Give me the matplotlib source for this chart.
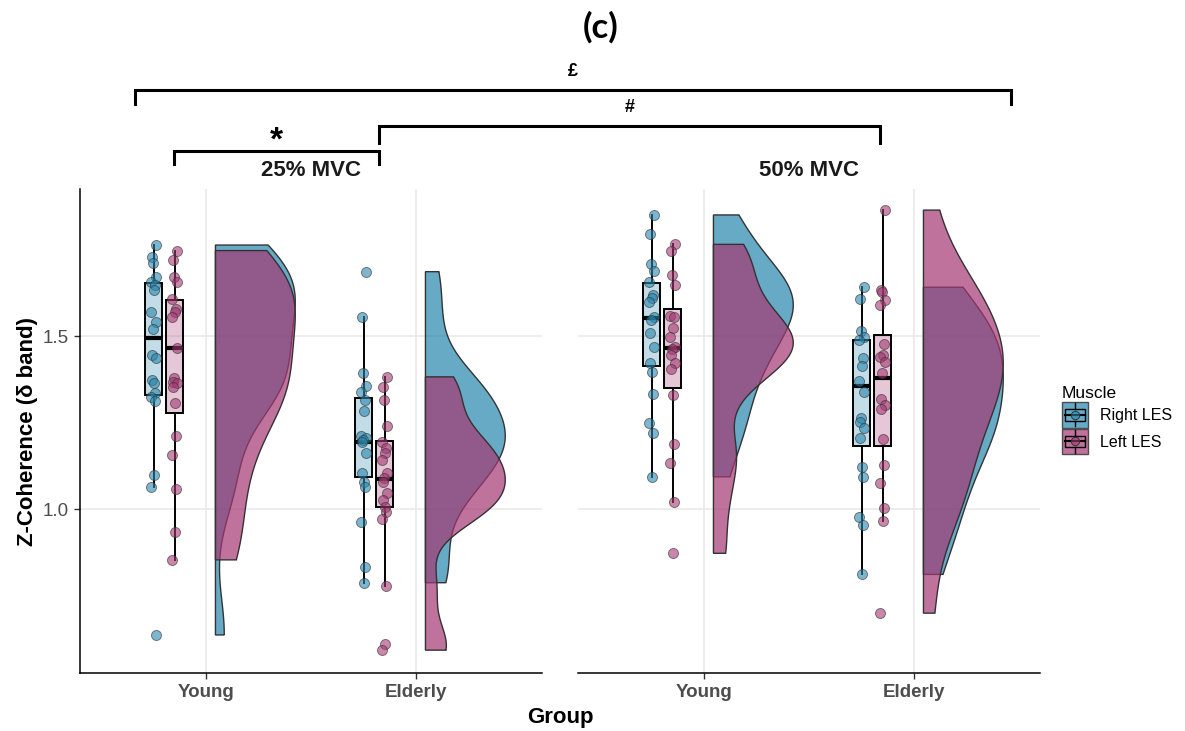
import numpy as np
import matplotlib.pyplot as plt
from matplotlib.colors import to_rgba
from matplotlib.lines import Line2D
from matplotlib.patches import Rectangle, Patch
from matplotlib.legend_handler import HandlerBase

plt.rcParams['font.family'] = ['Liberation Sans', 'DejaVu Sans']

# === DATA ===
groups = ["Young", "Elderly"]
loads = ["25% MVC", "50% MVC"]
muscles = ["Right LES", "Left LES"]

# individual z-coherence values (delta band)
right_25_young = [1.763, 1.729, 1.710, 1.671, 1.655, 1.647, 1.633, 1.570, 1.541, 1.520,
                  1.445, 1.436, 1.373, 1.363, 1.334, 1.325, 1.311, 1.098, 1.064, 0.636]
left_25_young = [1.747, 1.720, 1.671, 1.655, 1.606, 1.577, 1.570, 1.554, 1.464, 1.378,
                 1.368, 1.363, 1.353, 1.305, 1.212, 1.156, 1.057, 0.934, 0.853]
right_25_elderly = [1.686, 1.554, 1.394, 1.355, 1.339, 1.315, 1.284, 1.212, 1.204, 1.200,
                    1.195, 1.163, 1.103, 1.079, 1.064, 0.963, 0.831, 0.787]
left_25_elderly = [1.382, 1.352, 1.315, 1.241, 1.195, 1.175, 1.163, 1.142, 1.103, 1.089,
                   1.079, 1.045, 1.026, 1.007, 0.990, 0.970, 0.777, 0.610, 0.592]
right_50_young = [1.850, 1.794, 1.708, 1.688, 1.657, 1.618, 1.609, 1.599, 1.554, 1.546,
                  1.508, 1.469, 1.421, 1.397, 1.332, 1.249, 1.221, 1.093]
left_50_young = [1.765, 1.747, 1.676, 1.647, 1.558, 1.554, 1.522, 1.498, 1.469, 1.462,
                 1.445, 1.423, 1.404, 1.329, 1.187, 1.134, 1.021, 0.872]
right_50_elderly = [1.641, 1.607, 1.515, 1.498, 1.488, 1.436, 1.414, 1.371, 1.339, 1.262,
                    1.252, 1.233, 1.206, 1.122, 1.092, 0.978, 0.954, 0.811]
left_50_elderly = [1.864, 1.633, 1.626, 1.604, 1.590, 1.476, 1.445, 1.440, 1.424, 1.392,
                   1.317, 1.301, 1.288, 1.201, 1.127, 1.074, 1.002, 0.965, 0.699]

# box summaries, order: 25% Young, 25% Elderly, 50% Young, 50% Elderly
right_med = [1.493, 1.195, 1.551, 1.355]
right_q1 = [1.329, 1.093, 1.414, 1.183]
right_q3 = [1.652, 1.320, 1.654, 1.488]
right_whislo = [1.064, 0.787, 1.093, 0.811]
right_whishi = [1.763, 1.554, 1.850, 1.641]
left_med = [1.464, 1.087, 1.466, 1.378]
left_q1 = [1.278, 1.007, 1.349, 1.182]
left_q3 = [1.604, 1.197, 1.578, 1.503]
left_whislo = [0.853, 0.777, 1.021, 0.965]
left_whishi = [1.747, 1.382, 1.765, 1.864]

y_ticks = [1.0, 1.5]

# === STYLE ===
COLORS = {"Right LES": "#2786ae", "Left LES": "#a53772"}
BOX_SHIFT = {"Right LES": -0.25, "Left LES": -0.15}
VIOLIN_SHIFT = 0.045
VIOLIN_W = 0.38

W, H = 1185, 731
fig = plt.figure(figsize=(W / 100, H / 100), dpi=100)
ax_l = fig.add_axes([80 / W, 1 - 673 / H, 462 / W, 484 / H])
ax_r = fig.add_axes([578 / W, 1 - 673 / H, 462 / W, 484 / H])


def nrd0(x):
    x = np.asarray(x)
    sd = np.std(x, ddof=1)
    iqr = np.subtract(*np.percentile(x, [75, 25]))
    lo = min(sd, iqr / 1.34)
    return 0.9 * lo * len(x) ** -0.2


def flat_violin(ax, x0, vals, color):
    vals = np.asarray(vals)
    bw = nrd0(vals)
    grid = np.linspace(vals.min(), vals.max(), 512)
    dens = np.exp(-0.5 * ((grid[:, None] - vals[None, :]) / bw) ** 2).sum(axis=1)
    w = dens / dens.max() * VIOLIN_W
    xs = np.concatenate([[x0], x0 + w, [x0]])
    ys = np.concatenate([[grid[0]], grid, [grid[-1]]])
    ax.fill(xs, ys, facecolor=to_rgba(color, 0.7), edgecolor="#333333", lw=1.0, zorder=2)


data = {
    ("25% MVC", "Young"): (right_25_young, left_25_young),
    ("25% MVC", "Elderly"): (right_25_elderly, left_25_elderly),
    ("50% MVC", "Young"): (right_50_young, left_50_young),
    ("50% MVC", "Elderly"): (right_50_elderly, left_50_elderly),
}
box = {
    "Right LES": (right_med, right_q1, right_q3, right_whislo, right_whishi),
    "Left LES": (left_med, left_q1, left_q3, left_whislo, left_whishi),
}

k = 0
for ax, load in zip([ax_l, ax_r], loads):
    for gi, grp in enumerate(groups):
        xpos = gi + 1
        pair = data[(load, grp)]
        # half violins: right first, left drawn on top
        for m, vals in zip(muscles, pair):
            flat_violin(ax, xpos + VIOLIN_SHIFT, vals, COLORS[m])
        for m, vals in zip(muscles, pair):
            med, q1, q3, lo, hi = box[m]
            stats = [dict(med=med[k], q1=q1[k], q3=q3[k], whislo=lo[k], whishi=hi[k], fliers=[])]
            ax.bxp(stats, positions=[xpos + BOX_SHIFT[m]], widths=0.08, patch_artist=True,
                   showfliers=False, showcaps=False, manage_ticks=False,
                   boxprops=dict(facecolor=to_rgba(COLORS[m], 0.28), edgecolor="black", lw=1.4),
                   whiskerprops=dict(color="black", lw=1.4),
                   medianprops=dict(color="black", lw=3.0), zorder=3)
            vals = np.asarray(vals)
            jit = 0.012 * np.cos(np.arange(len(vals)) * 2.3)
            ax.scatter(xpos + BOX_SHIFT[m] + jit, vals, s=52, color=COLORS[m], alpha=0.6,
                       edgecolor="#333333", linewidth=0.7, zorder=4)
        k += 1

    ax.set_xlim(0.4, 2.6)
    ax.set_ylim(0.526, 1.925)
    ax.set_xticks([1, 2])
    ax.set_xticklabels(groups, fontsize=13.5, fontweight="bold", color="#4d4d4d")
    ax.set_yticks(y_ticks)
    ax.grid(True, color="#e8e8e8", lw=1.1)
    ax.set_axisbelow(True)
    for s in ["top", "right"]:
        ax.spines[s].set_visible(False)
    ax.spines["bottom"].set_linewidth(1.1)
    ax.tick_params(axis="x", length=4, width=1.0, color="#333333", pad=4)
    ax.text(0.5, 1.039, load, transform=ax.transAxes, ha="center", va="center",
            fontsize=16, fontweight="bold", color="#1a1a1a")

ax_l.set_yticklabels(["1.0", "1.5"], fontsize=13.5, color="#4d4d4d")
ax_l.tick_params(axis="y", length=4, width=1.0, color="#333333", pad=4)
ax_l.spines["left"].set_linewidth(1.1)
ax_r.spines["left"].set_visible(False)
ax_r.tick_params(axis="y", length=0, labelleft=False)

fig.text(28 / W, 1 - 431 / H, "Z-Coherence (δ band)", rotation=90, ha="center", va="center",
         fontsize=16, fontweight="bold")
fig.text(560 / W, 1 - 718 / H, "Group", ha="center", va="center", fontsize=16, fontweight="bold")
fig.text(601 / W, 1 - 27 / H, "(c)", ha="center", va="center", fontsize=25, fontweight="bold",
         family=["Lato", "DejaVu Sans"])


# === significance brackets ===
def bracket(x1, x2, y, drop):
    fig.add_artist(Line2D([x1 / W, x1 / W, x2 / W, x2 / W],
                          [1 - (y + drop) / H, 1 - y / H, 1 - y / H, 1 - (y + drop) / H],
                          transform=fig.transFigure, color="black", lw=2.2,
                          solid_joinstyle="miter"))


bracket(135, 1011, 90, 14)
bracket(379, 880, 126, 17)
bracket(174, 379, 151, 13)
fig.text(573 / W, 1 - 72 / H, "£", ha="center", va="center", fontsize=13, fontweight="bold")
fig.text(630 / W, 1 - 107 / H, "#", ha="center", va="center", fontsize=13, fontweight="bold")
fig.text(276 / W, 1 - 141 / H, "*", ha="center", va="center", fontsize=24, fontweight="bold")


# === legend with box-plot keys ===
class BoxKey(HandlerBase):
    def __init__(self, color):
        super().__init__()
        self.color = color

    def create_artists(self, legend, orig_handle, xdescent, ydescent, width, height, fontsize, trans):
        x0, y0 = -xdescent, -ydescent
        bg = Rectangle((x0, y0), width, height, facecolor=to_rgba(self.color, 0.7),
                       edgecolor="#4d4d4d", lw=1.0, transform=trans)
        bx = Rectangle((x0 + 0.1 * width, y0 + 0.27 * height), 0.8 * width, 0.46 * height,
                       facecolor="none", edgecolor="black", lw=1.0, transform=trans)
        med = Line2D([x0 + 0.1 * width, x0 + 0.9 * width], [y0 + 0.5 * height] * 2,
                     color="black", lw=1.5, transform=trans)
        wl = Line2D([x0 + 0.5 * width] * 2, [y0 + 0.05 * height, y0 + 0.27 * height],
                    color="black", lw=1.0, transform=trans)
        wh = Line2D([x0 + 0.5 * width] * 2, [y0 + 0.73 * height, y0 + 0.95 * height],
                    color="black", lw=1.0, transform=trans)
        pt = Line2D([x0 + 0.5 * width], [y0 + 0.5 * height], marker="o", markersize=6,
                    markerfacecolor=to_rgba(self.color, 0.6), markeredgecolor="#333333",
                    markeredgewidth=0.7, transform=trans)
        return [bg, bx, med, wl, wh, pt]


handles = [Patch(label=m) for m in muscles]
hmap = {h: BoxKey(COLORS[m]) for h, m in zip(handles, muscles)}
fig.legend(handles=handles, handler_map=hmap, title="Muscle", loc="upper left",
           bbox_to_anchor=(1062 / W, 1 - 386 / H), frameon=False, fontsize=11.5,
           title_fontsize=12.5, handlelength=1.63, handleheight=2.12, handletextpad=0.75,
           labelspacing=0.05, borderpad=0, borderaxespad=0, alignment="left")

fig.savefig("out.png", dpi=100)
